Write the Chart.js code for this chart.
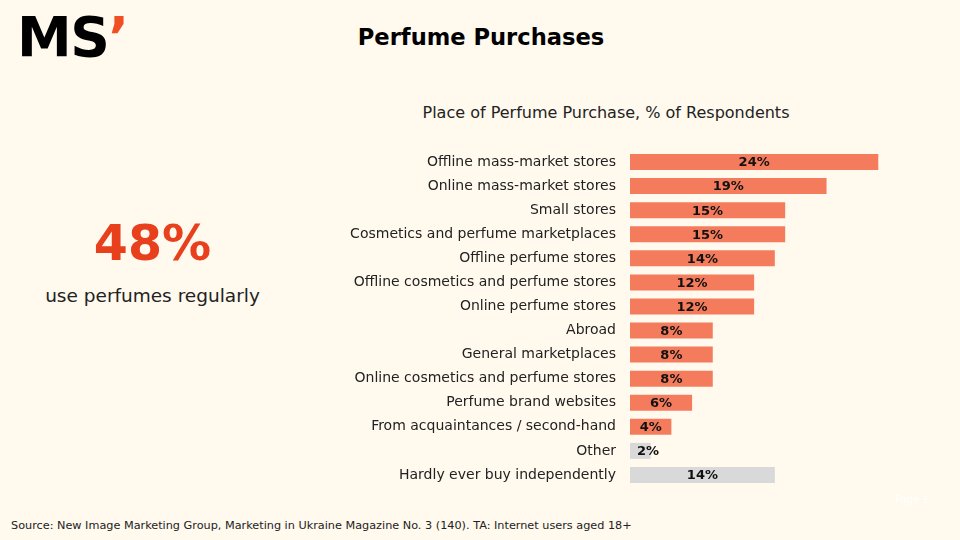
<!DOCTYPE html>
<html>
<head>
<meta charset="utf-8">
<script src="https://cdn.jsdelivr.net/npm/chart.js@4"></script>
<style>
  html, body { margin: 0; padding: 0; }
  body {
    width: 960px; height: 540px; overflow: hidden;
    background: #fff9ee; position: relative;
    font-family: "DejaVu Sans", sans-serif; color: #222;
  }
  .abs { position: absolute; white-space: nowrap; }
  #logo { left: 17px; top: 5px; font-weight: bold; font-size: 55px; color: #000; letter-spacing: -1.5px; }
  #logo span { color: #f04e23; }
  #title { left: 0; width: 962px; top: 24px; text-align: center; font-weight: bold; font-size: 22.6px; color: #000; }
  #subtitle { left: 420px; width: 372px; top: 103px; text-align: center; font-size: 16px; color: #222; }
  #big { left: 40px; width: 225px; top: 215px; text-align: center; font-weight: bold; font-size: 49px; color: #e8401c; }
  #bigNote { left: 40px; width: 225px; top: 285px; text-align: center; font-size: 18.5px; color: #222; }
  #source { left: 11px; top: 519px; font-size: 11.25px; color: #222; }
  #page { left: 895px; top: 494px; font-size: 10px; color: #fff; }
  #chartBox { position: absolute; left: 0; top: 0; width: 960px; height: 540px; }
</style>
</head>
<body>
<div id="logo" class="abs">MS<span>’</span></div>
<div id="title" class="abs">Perfume Purchases</div>
<div id="subtitle" class="abs">Place of Perfume Purchase, % of Respondents</div>
<div id="big" class="abs">48%</div>
<div id="bigNote" class="abs">use perfumes regularly</div>
<div id="source" class="abs">Source: New Image Marketing Group, Marketing in Ukraine Magazine No. 3 (140). TA: Internet users aged 18+</div>
<div id="page" class="abs">Page 1</div>
<div id="chartBox"><canvas id="purchaseChart"></canvas></div>

<script>
const categories = [
    "Offline mass-market stores",
    "Online mass-market stores",
    "Small stores",
    "Cosmetics and perfume marketplaces",
    "Offline perfume stores",
    "Offline cosmetics and perfume stores",
    "Online perfume stores",
    "Abroad",
    "General marketplaces",
    "Online cosmetics and perfume stores",
    "Perfume brand websites",
    "From acquaintances / second-hand",
    "Other",
    "Hardly ever buy independently"
];

const shares = [24, 19, 15, 15, 14, 12, 12, 8, 8, 8, 6, 4, 2, 14];

const greyCategories = ["Other", "Hardly ever buy independently"];

const barColors = categories.map(c =>
    greyCategories.includes(c) ? "#d9d9d9" : "#f47c5c"
);

// labels inside the bars, pushed right a bit when the bar is too short
const barLabels = {
    id: "barLabels",
    afterDatasetsDraw(chart) {
        const ctx = chart.ctx;
        const meta = chart.getDatasetMeta(0);
        ctx.save();
        ctx.font = "bold 13px 'DejaVu Sans', sans-serif";
        ctx.fillStyle = "#111";
        ctx.textAlign = "center";
        ctx.textBaseline = "middle";
        meta.data.forEach((bar, i) => {
            const text = shares[i] + "%";
            const w = ctx.measureText(text).width;
            const center = (bar.x + bar.base) / 2;
            const x = Math.max(center, bar.base + w / 2 + 7);
            ctx.fillText(text, x, bar.y + 1);
        });
        ctx.restore();
    }
};

new Chart(
    document.getElementById("purchaseChart"),
    {
        type: "bar",
        data: {
            labels: categories,
            datasets: [{
                data: shares,
                backgroundColor: barColors,
                barPercentage: 0.665,
                categoryPercentage: 1
            }]
        },
        options: {
            indexAxis: "y",
            responsive: true,
            maintainAspectRatio: false,
            animation: false,
            layout: {
                padding: { top: 150, bottom: 53, left: 0, right: 30 }
            },
            plugins: {
                legend: { display: false },
                tooltip: { enabled: false }
            },
            scales: {
                x: {
                    min: 0,
                    max: 29,
                    display: false
                },
                y: {
                    grid: { display: false, drawTicks: false },
                    border: { display: false },
                    ticks: {
                        padding: 14,
                        color: "#222",
                        font: { family: "'DejaVu Sans', sans-serif", size: 14 }
                    },
                    afterFit(scale) {
                        scale.width = 630;
                    }
                }
            }
        },
        plugins: [barLabels]
    }
);
</script>
</body>
</html>
